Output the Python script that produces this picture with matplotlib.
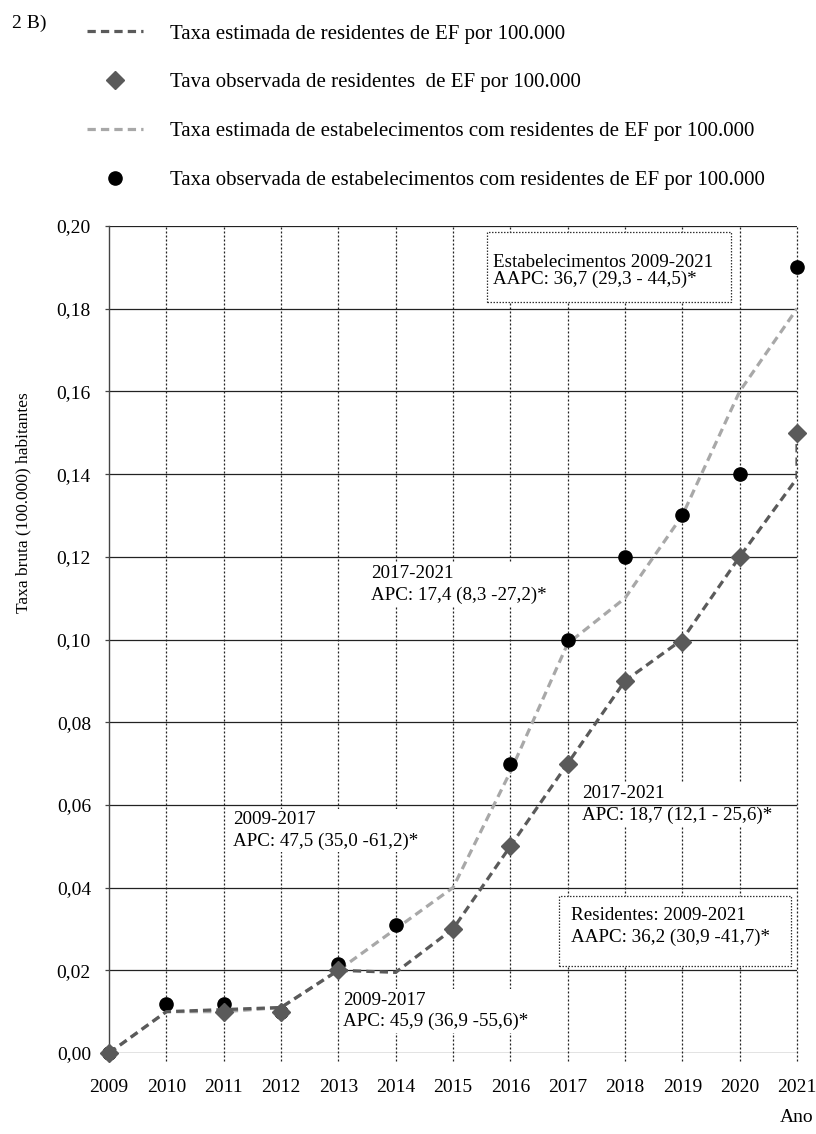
import matplotlib
matplotlib.use("Agg")
import matplotlib.pyplot as plt
from matplotlib.patches import Rectangle

plt.rcParams['font.family'] = ['Liberation Serif', 'DejaVu Serif']

# ---------------- data ----------------
years = [2009, 2010, 2011, 2012, 2013, 2014, 2015, 2016, 2017, 2018, 2019, 2020, 2021]

# estimated residents rate (line ends with a short rise at 2021)
res_est_years = years + [2021]
res_est = [0.000, 0.010, 0.0105, 0.011, 0.020, 0.0195, 0.030, 0.050, 0.070, 0.090, 0.100, 0.120, 0.139, 0.149]

# observed residents rate (diamonds)
res_obs_years = [2009, 2011, 2012, 2013, 2015, 2016, 2017, 2018, 2019, 2020, 2021]
res_obs = [0.000, 0.010, 0.010, 0.020, 0.030, 0.050, 0.070, 0.090, 0.0995, 0.120, 0.150]

# estimated establishments rate
est_est = [0.000, 0.010, 0.010, 0.011, 0.020, 0.030, 0.040, 0.068, 0.099, 0.110, 0.130, 0.160, 0.180]

# observed establishments rate (circles)
est_obs_years = [2009, 2010, 2011, 2012, 2013, 2014, 2016, 2017, 2018, 2019, 2020, 2021]
est_obs = [0.000, 0.0118, 0.0118, 0.010, 0.0215, 0.031, 0.070, 0.100, 0.120, 0.130, 0.140, 0.190]

yticks = [0.00, 0.02, 0.04, 0.06, 0.08, 0.10, 0.12, 0.14, 0.16, 0.18, 0.20]

labels = ["Taxa estimada de residentes de EF por 100.000",
          "Tava observada de residentes  de EF por 100.000",
          "Taxa estimada de estabelecimentos com residentes de EF por 100.000",
          "Taxa observada de estabelecimentos com residentes de EF por 100.000"]

annotations = [
    ("2017-2021\nAPC: 17,4 (8,3 -27,2)*", 0.381, 0.566),
    ("2009-2017\nAPC: 47,5 (35,0 -61,2)*", 0.180, 0.269),
    ("2017-2021\nAPC: 18,7 (12,1 - 25,6)*", 0.6875, 0.301),
    ("2009-2017\nAPC: 45,9 (36,9 -55,6)*", 0.340, 0.0508),
]

DARK = '#5a5a5a'
LIGHT = '#a8a8a8'
FS_ANN = 13.7
FS_TICK = 14
FS_LEG = 15

# ---------------- figure ----------------
fig = plt.figure(figsize=(8.16, 11.34), dpi=100)
ax = fig.add_axes([109/816, 1 - 1053/1134, 688/816, 827/1134])
ax.set_xlim(2009, 2021)
ax.set_ylim(0, 0.20)

for s in ['top', 'right', 'bottom']:
    ax.spines[s].set_visible(False)
ax.spines['left'].set_color('#444444')
ax.spines['left'].set_linewidth(1.0)
ax.spines['left'].set_zorder(3)

# grid lines
ax.hlines(yticks, 2009, 2021, color='#222222', lw=0.9, zorder=3)
ax.vlines(years[1:], -0.002, 0.20, color='#222222', lw=0.9,
          linestyles=(0, (1.6, 1.6)), zorder=1, clip_on=False)

ax.set_xticks(years)
ax.set_xticklabels([str(y) for y in years], fontsize=FS_TICK)
ax.tick_params(axis='x', length=0, pad=19)
ax.set_yticks(yticks)
ax.set_yticklabels([f"{v:.2f}".replace('.', ',') for v in yticks], fontsize=FS_TICK)
ax.tick_params(axis='y', length=3, width=0.9, pad=10, color='#444444')

# series
l_est, = ax.plot(years, est_est, color=LIGHT, lw=2.3, linestyle=(0, (2.6, 1.6)),
                 zorder=4, label=labels[2])
c_est, = ax.plot(est_obs_years, est_obs, 'o', color='black', ms=9.5, zorder=5,
                 clip_on=False, label=labels[3], linestyle='none')
l_res, = ax.plot(res_est_years, res_est, color=DARK, lw=2.3, linestyle=(0, (2.6, 1.6)),
                 zorder=6, label=labels[0])
d_res, = ax.plot(res_obs_years, res_obs, 'D', color=DARK, ms=9.5, zorder=7,
                 clip_on=False, label=labels[1], linestyle='none')

# annotations
for txt, fx, fy in annotations:
    ax.text(fx, fy, txt, transform=ax.transAxes, fontsize=FS_ANN, ha='left', va='center',
            linespacing=1.35, zorder=2,
            bbox=dict(facecolor='white', edgecolor='none', pad=1.5))

# boxed annotations
ax.add_patch(Rectangle((0.549, 0.908), 0.904 - 0.549, 0.993 - 0.908, transform=ax.transAxes,
                       facecolor='white', edgecolor='#333333', lw=0.9,
                       linestyle=(0, (1.2, 1.2)), zorder=2, clip_on=False))
ax.text(0.558, 0.9456, "Estabelecimentos 2009-2021\nAAPC: 36,7 (29,3 - 44,5)*",
        transform=ax.transAxes, fontsize=FS_ANN, ha='left', va='center', linespacing=1.0, zorder=2.5)

ax.add_patch(Rectangle((0.654, 0.105), 0.991 - 0.654, 0.190 - 0.105, transform=ax.transAxes,
                       facecolor='white', edgecolor='#333333', lw=0.9,
                       linestyle=(0, (1.2, 1.2)), zorder=2, clip_on=False))
ax.text(0.672, 0.153, "Residentes: 2009-2021\nAAPC: 36,2 (30,9 -41,7)*",
        transform=ax.transAxes, fontsize=FS_ANN, ha='left', va='center', linespacing=1.3, zorder=2.5)

# legend
leg = fig.legend(handles=[l_res, d_res, l_est, c_est], labels=labels,
                 loc='upper left', bbox_to_anchor=(87/816, 1 - 24/1134),
                 frameon=False, fontsize=FS_LEG, handlelength=2.7, handletextpad=1.3,
                 labelspacing=1.40, borderaxespad=0, borderpad=0)

# titles / labels
fig.text(12/816, 1 - 23/1134, "2 B)", fontsize=FS_TICK, ha='left', va='center')
fig.text(23/816, 1 - 503/1134, "Taxa bruta (100.000) habitantes", fontsize=12.5,
         rotation=90, ha='center', va='center')
fig.text(797/816, 1 - 1117/1134, "Ano", fontsize=FS_TICK, ha='center', va='center')

fig.savefig("out.png", dpi=100, facecolor='white')
